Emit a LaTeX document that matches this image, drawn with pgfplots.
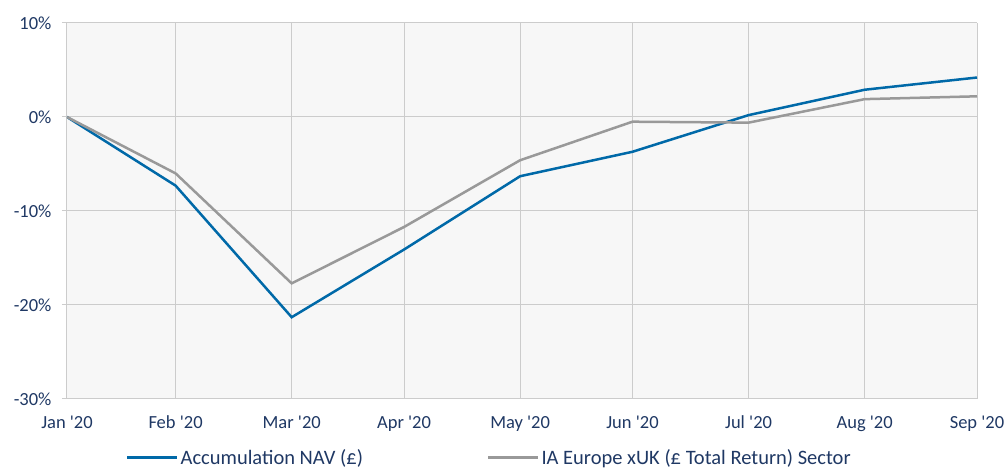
\documentclass[border=0pt]{standalone}
\usepackage{pgfplots}
\pgfplotsset{compat=1.18}
\usepackage{fontspec}
\setmainfont{Carlito}[Ligatures=TeXOff]
\definecolor{navy}{RGB}{31,56,100}
\definecolor{navblue}{RGB}{0,105,168}
\definecolor{sectgrey}{RGB}{153,153,153}
\definecolor{gridc}{RGB}{204,204,204}
\definecolor{bgc}{RGB}{247,247,247}
\newcommand{\lf}{\fontsize{18.5}{22}\selectfont}
\newcommand{\lgf}{\fontsize{20.5}{24}\selectfont}
\begin{document}
\begin{tikzpicture}[x=1pt,y=1pt]
\useasboundingbox (-67,-71) rectangle (939,399);
\begin{axis}[
  at={(0,0)}, anchor=south west,
  scale only axis, width=910pt, height=376pt,
  xmin=0, xmax=243, ymin=-30, ymax=10,
  xtick={0,29,60,90,121,151,182,213,243},
  xticklabels={Jan '20,Feb '20,Mar '20,Apr '20,May '20,Jun '20,Jul '20,Aug '20,Sep '20},
  ytick={-30,-20,-10,0,10},
  yticklabels={-30\%,-20\%,-10\%,0\%,10\%},
  grid=major, major grid style={gridc, line width=1pt},
  axis line style={draw=none},
  axis background/.style={fill=bgc},
  ytick pos=left, tick align=outside, major tick length=5pt,
  ytick style={gridc, line width=1pt},
  xtick style={draw=none},
  tick label style={font=\lf, text=navy},
  yticklabel style={xshift=-7pt},
  xticklabel style={yshift=-8pt},
  legend style={at={(rel axis cs:0.0615,-0.155)}, anchor=west, draw=none, fill=none,
    font=\lgf, text=navy, legend columns=2,
    /tikz/every even column/.append style={column sep=122pt}},
  legend cell align=left,
  legend image code/.code={\draw[#1] (0pt,0pt) -- (50pt,0pt);},
]
\addplot[navblue, line width=2.5pt] coordinates {
  (0,0) (29,-7.3) (60,-21.3) (90,-14.1) (121,-6.3) (151,-3.7) (182,0.2) (213,2.9) (243,4.2)};
\addlegendentry{Accumulation NAV (£)}
\addplot[sectgrey, line width=2.5pt] coordinates {
  (0,0) (29,-6.0) (60,-17.7) (90,-11.7) (121,-4.6) (151,-0.5) (182,-0.6) (213,1.9) (243,2.2)};
\addlegendentry{IA Europe xUK (£ Total Return) Sector}
\end{axis}
\end{tikzpicture}
\end{document}
